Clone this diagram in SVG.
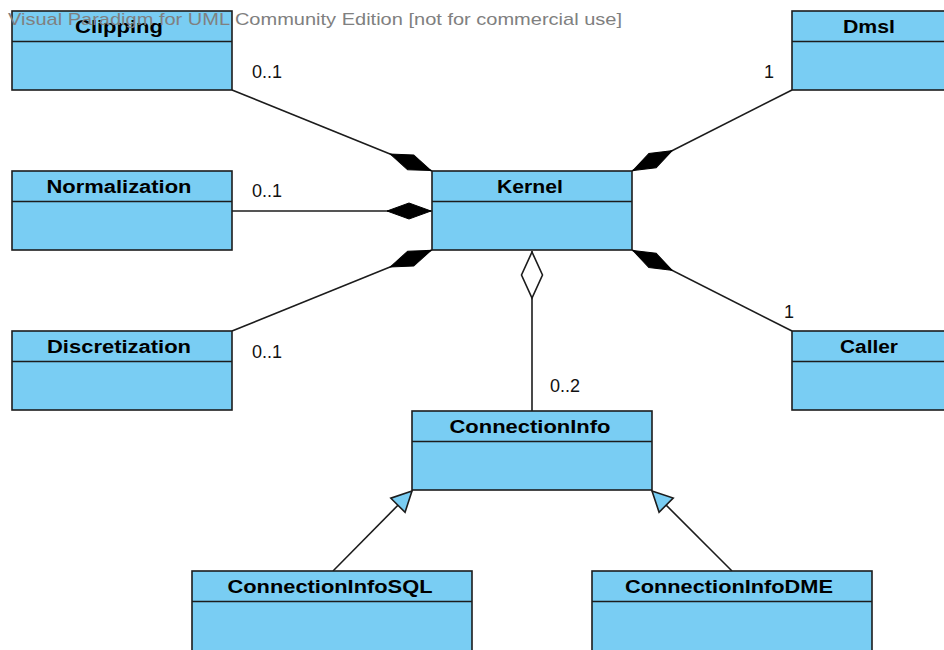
<svg xmlns="http://www.w3.org/2000/svg" width="944" height="650" viewBox="0 0 944 650">
<style>
.box{fill:#79cdf3;stroke:#1c1c1c;stroke-width:1.6}
.sep{stroke:#1c1c1c;stroke-width:1.6}
.name{font-family:"Liberation Sans",Arial,sans-serif;font-weight:bold;font-size:18px;fill:#000;text-anchor:middle}
.mult{font-family:"Liberation Sans",Arial,sans-serif;font-size:18px;fill:#111}
.conn{stroke:#1c1c1c;stroke-width:1.6;fill:none}
.wm{font-family:"Liberation Sans",Arial,sans-serif;font-size:17px;fill:#808080}
</style>
<defs>
<marker id="comp" markerUnits="userSpaceOnUse" viewBox="0 0 46 20" refX="0" refY="10" markerWidth="46" markerHeight="20" orient="auto">
<path d="M1,10 L23,2 L45,10 L23,18 Z" fill="#000" stroke="#000" stroke-width="1"/>
</marker>
<marker id="agg" markerUnits="userSpaceOnUse" viewBox="0 0 50 24" refX="0" refY="12" markerWidth="50" markerHeight="24" orient="auto">
<path d="M1,12 L24,1.5 L47,12 L24,22.5 Z" fill="#fff" stroke="#1c1c1c" stroke-width="1.6"/>
</marker>
<marker id="gen" markerUnits="userSpaceOnUse" viewBox="0 0 24 24" refX="22" refY="12" markerWidth="24" markerHeight="24" orient="auto">
<path d="M22,12 L2,2 L2,22 Z" fill="#79cdf3" stroke="#1c1c1c" stroke-width="1.6"/>
</marker>
</defs>
<rect width="944" height="650" fill="#fff"/>
<g id="connectors">
<line class="conn" x1="432" y1="171" x2="232" y2="90" marker-start="url(#comp)"/>
<line class="conn" x1="432" y1="211" x2="232" y2="211" marker-start="url(#comp)"/>
<line class="conn" x1="432" y1="250" x2="232" y2="331" marker-start="url(#comp)"/>
<line class="conn" x1="632" y1="171" x2="792" y2="90" marker-start="url(#comp)"/>
<line class="conn" x1="632" y1="250" x2="792" y2="331" marker-start="url(#comp)"/>
<line class="conn" x1="532" y1="251" x2="532" y2="411" marker-start="url(#agg)"/>
<line class="conn" x1="333" y1="571" x2="412" y2="491" marker-end="url(#gen)"/>
<line class="conn" x1="732" y1="571" x2="652" y2="491" marker-end="url(#gen)"/>
<text class="mult" x="252" y="78">0..1</text>
<text class="mult" x="252" y="197">0..1</text>
<text class="mult" x="252" y="358">0..1</text>
<text class="mult" x="764" y="78">1</text>
<text class="mult" x="784" y="318">1</text>
<text class="mult" x="550" y="392">0..2</text>
</g>
<g id="Clipping">
<rect class="box" x="12" y="11" width="220" height="79"/>
<line class="sep" x1="12" y1="41.5" x2="232" y2="41.5"/>
<text class="name" x="119" y="33" textLength="88" lengthAdjust="spacingAndGlyphs">Clipping</text>
</g>
<g id="Normalization">
<rect class="box" x="12" y="171" width="220" height="79"/>
<line class="sep" x1="12" y1="201.5" x2="232" y2="201.5"/>
<text class="name" x="119" y="193" textLength="145" lengthAdjust="spacingAndGlyphs">Normalization</text>
</g>
<g id="Discretization">
<rect class="box" x="12" y="331" width="220" height="79"/>
<line class="sep" x1="12" y1="361.5" x2="232" y2="361.5"/>
<text class="name" x="119" y="353" textLength="144" lengthAdjust="spacingAndGlyphs">Discretization</text>
</g>
<g id="Kernel">
<rect class="box" x="432" y="171" width="200" height="79"/>
<line class="sep" x1="432" y1="201.5" x2="632" y2="201.5"/>
<text class="name" x="530" y="193" textLength="66" lengthAdjust="spacingAndGlyphs">Kernel</text>
</g>
<g id="Dmsl">
<rect class="box" x="792" y="11" width="160" height="79"/>
<line class="sep" x1="792" y1="41.5" x2="952" y2="41.5"/>
<text class="name" x="869" y="33" textLength="52" lengthAdjust="spacingAndGlyphs">Dmsl</text>
</g>
<g id="Caller">
<rect class="box" x="792" y="331" width="160" height="79"/>
<line class="sep" x1="792" y1="361.5" x2="952" y2="361.5"/>
<text class="name" x="869" y="353" textLength="58" lengthAdjust="spacingAndGlyphs">Caller</text>
</g>
<g id="ConnectionInfo">
<rect class="box" x="412" y="411" width="240" height="79"/>
<line class="sep" x1="412" y1="441.5" x2="652" y2="441.5"/>
<text class="name" x="530" y="433" textLength="161" lengthAdjust="spacingAndGlyphs">ConnectionInfo</text>
</g>
<g id="ConnectionInfoSQL">
<rect class="box" x="192" y="571" width="280" height="90"/>
<line class="sep" x1="192" y1="601.5" x2="472" y2="601.5"/>
<text class="name" x="330" y="593" textLength="205" lengthAdjust="spacingAndGlyphs">ConnectionInfoSQL</text>
</g>
<g id="ConnectionInfoDME">
<rect class="box" x="592" y="571" width="280" height="90"/>
<line class="sep" x1="592" y1="601.5" x2="872" y2="601.5"/>
<text class="name" x="729" y="593" textLength="208" lengthAdjust="spacingAndGlyphs">ConnectionInfoDME</text>
</g>
<text class="wm" x="8" y="25" textLength="614" lengthAdjust="spacingAndGlyphs">Visual Paradigm for UML Community Edition [not for commercial use]</text>
</svg>
